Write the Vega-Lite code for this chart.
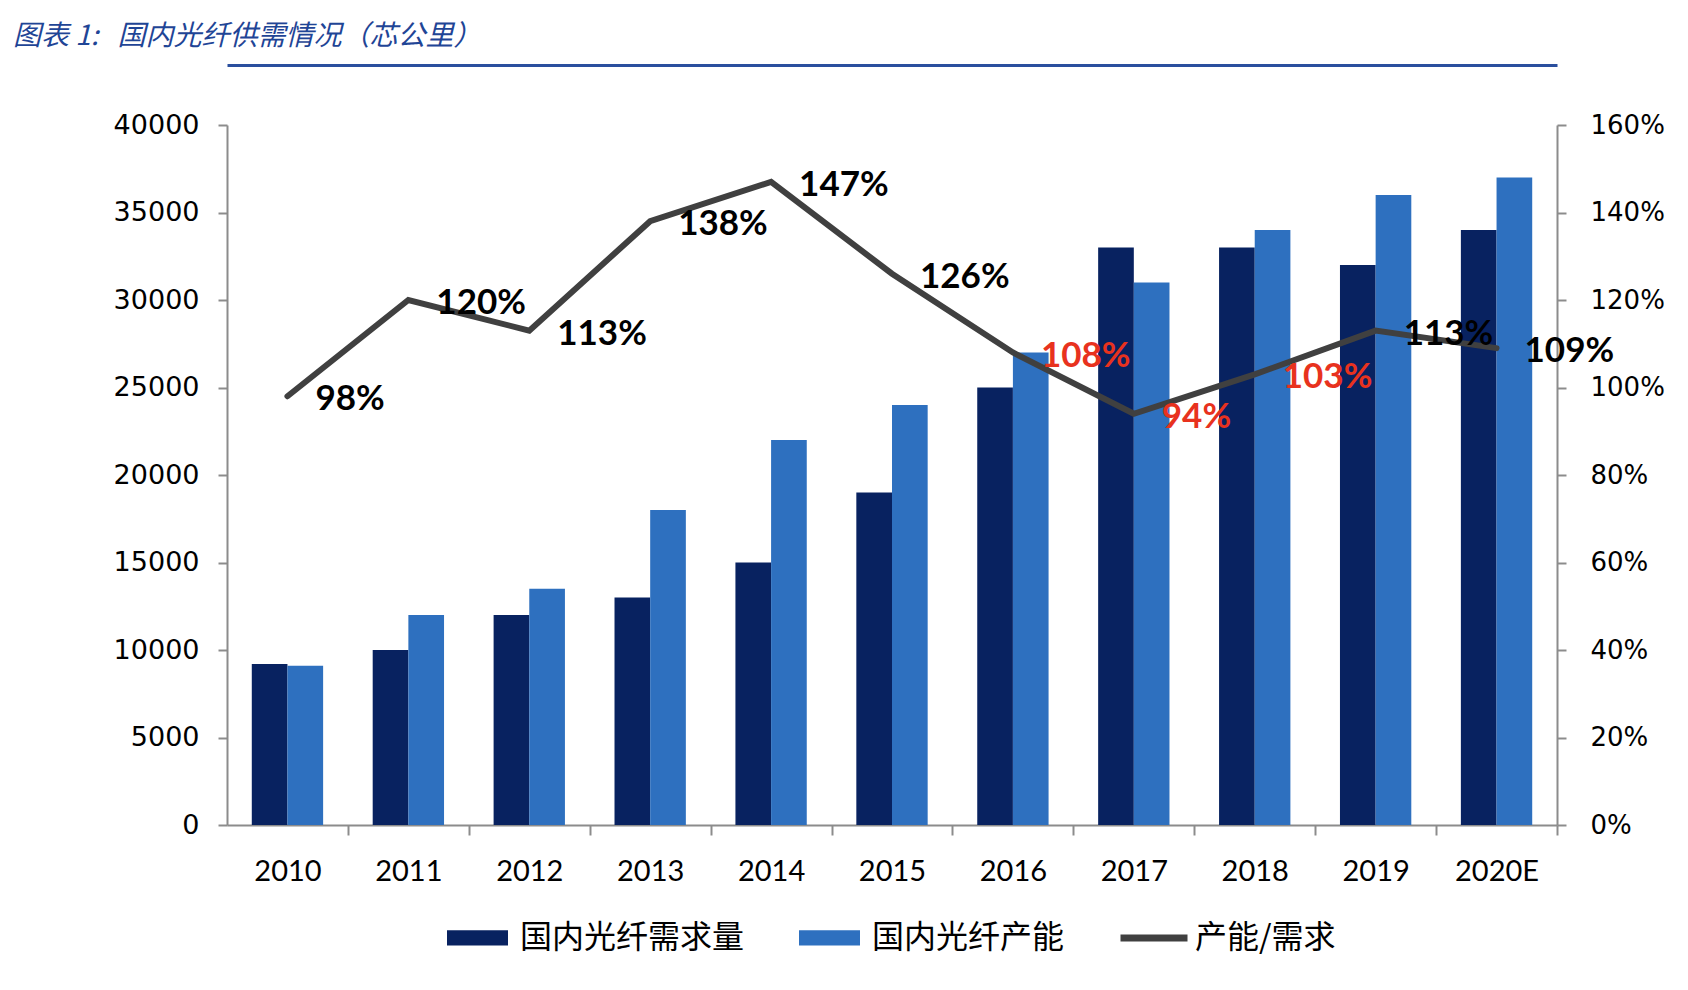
{
  "$schema": "https://vega.github.io/schema/vega-lite/v6.json",
  "width": 1330,
  "height": 700,
  "autosize": {"type": "none"},
  "padding": {"left": 227, "top": 125, "right": 131, "bottom": 165},
  "background": "white",
  "title": {
    "text": "图表 1:\u00a0\u00a0 国内光纤供需情况（芯公里）",
    "anchor": "start",
    "frame": "group",
    "dx": -214,
    "offset": 14,
    "font": "Noto Sans CJK SC",
    "fontSize": 28,
    "fontStyle": "italic",
    "fontWeight": "normal",
    "color": "#1F4596"
  },
  "datasets": {
    "bars": [
      {"year": "2010", "series": "国内光纤需求量", "value": 9200},
      {"year": "2010", "series": "国内光纤产能", "value": 9100},
      {"year": "2011", "series": "国内光纤需求量", "value": 10000},
      {"year": "2011", "series": "国内光纤产能", "value": 12000},
      {"year": "2012", "series": "国内光纤需求量", "value": 12000},
      {"year": "2012", "series": "国内光纤产能", "value": 13500},
      {"year": "2013", "series": "国内光纤需求量", "value": 13000},
      {"year": "2013", "series": "国内光纤产能", "value": 18000},
      {"year": "2014", "series": "国内光纤需求量", "value": 15000},
      {"year": "2014", "series": "国内光纤产能", "value": 22000},
      {"year": "2015", "series": "国内光纤需求量", "value": 19000},
      {"year": "2015", "series": "国内光纤产能", "value": 24000},
      {"year": "2016", "series": "国内光纤需求量", "value": 25000},
      {"year": "2016", "series": "国内光纤产能", "value": 27000},
      {"year": "2017", "series": "国内光纤需求量", "value": 33000},
      {"year": "2017", "series": "国内光纤产能", "value": 31000},
      {"year": "2018", "series": "国内光纤需求量", "value": 33000},
      {"year": "2018", "series": "国内光纤产能", "value": 34000},
      {"year": "2019", "series": "国内光纤需求量", "value": 32000},
      {"year": "2019", "series": "国内光纤产能", "value": 36000},
      {"year": "2020E", "series": "国内光纤需求量", "value": 34000},
      {"year": "2020E", "series": "国内光纤产能", "value": 37000}
    ],
    "ratio": [
      {"year": "2010", "ratio": 0.98},
      {"year": "2011", "ratio": 1.20},
      {"year": "2012", "ratio": 1.13},
      {"year": "2013", "ratio": 1.38},
      {"year": "2014", "ratio": 1.47},
      {"year": "2015", "ratio": 1.26},
      {"year": "2016", "ratio": 1.08},
      {"year": "2017", "ratio": 0.94},
      {"year": "2018", "ratio": 1.03},
      {"year": "2019", "ratio": 1.13},
      {"year": "2020E", "ratio": 1.09}
    ]
  },
  "config": {
    "view": {"stroke": null},
    "axis": {
      "grid": false,
      "domainColor": "#8c8c8c",
      "domainWidth": 2,
      "tickColor": "#8c8c8c",
      "tickWidth": 2,
      "labelColor": "#000000",
      "title": null
    }
  },
  "resolve": {"scale": {"y": "independent"}, "axis": {"x": "independent"}},
  "layer": [
    {
      "data": {"name": "bars"},
      "mark": {"type": "bar"},
      "encoding": {
        "x": {
          "field": "year",
          "type": "nominal",
          "scale": {"paddingInner": 0.41, "paddingOuter": 0.205},
          "axis": {
            "orient": "bottom",
            "labelAngle": 0,
            "tickSize": 10,
            "tickOffset": 60.45,
            "labelOffset": -60.45,
            "labelFont": "Lato",
            "labelFontSize": 29,
            "labelPadding": 22
          }
        },
        "xOffset": {"field": "series", "type": "nominal", "sort": ["国内光纤需求量", "国内光纤产能"]},
        "y": {
          "field": "value",
          "type": "quantitative",
          "scale": {"domain": [0, 40000]},
          "axis": {
            "values": [0, 5000, 10000, 15000, 20000, 25000, 30000, 35000, 40000],
            "format": "d",
            "labelFont": "DejaVu Sans",
            "labelFontSize": 27,
            "tickSize": 9,
            "labelPadding": 19
          }
        },
        "color": {
          "field": "series",
          "type": "nominal",
          "scale": {"domain": ["国内光纤需求量", "国内光纤产能"], "range": ["#082260", "#2E70BF"]},
          "legend": {
            "orient": "none",
            "legendX": 220,
            "legendY": 782,
            "direction": "horizontal",
            "title": null,
            "symbolType": "M-1,-0.25L1,-0.25L1,0.25L-1,0.25Z",
            "symbolSize": 3721,
            "symbolStrokeWidth": 0,
            "labelFont": "Noto Sans CJK SC",
            "labelFontSize": 32,
            "labelColor": "#000000",
            "labelOffset": 12,
            "labelLimit": 0,
            "columnPadding": 54
          }
        }
      }
    },
    {
      "data": {"name": "ratio"},
      "encoding": {
        "x": {
          "field": "year",
          "type": "nominal",
          "axis": {
            "orient": "top",
            "offset": 60,
            "labels": false,
            "ticks": false,
            "domainColor": "#2A4F9E",
            "domainWidth": 3
          }
        },
        "y": {
          "field": "ratio",
          "type": "quantitative",
          "scale": {"domain": [0, 1.6]},
          "axis": {
            "orient": "right",
            "values": [0, 0.2, 0.4, 0.6, 0.8, 1.0, 1.2, 1.4, 1.6],
            "format": ".0%",
            "labelFont": "DejaVu Sans",
            "labelFontSize": 26,
            "tickSize": 9,
            "labelPadding": 24
          }
        }
      },
      "layer": [
        {
          "mark": {"type": "line", "strokeWidth": 6, "strokeCap": "round"},
          "encoding": {
            "stroke": {
              "datum": "产能/需求",
              "scale": {"range": ["#404040"]},
              "legend": {
                "orient": "none",
                "legendX": 890,
                "legendY": 776,
                "title": null,
                "symbolType": "stroke",
                "symbolSize": 4489,
                "symbolStrokeWidth": 7,
                "labelFont": "Noto Sans CJK SC",
                "labelFontSize": 32,
                "labelColor": "#000000",
                "labelOffset": 4,
                "labelLimit": 0
              }
            }
          }
        },
        {
          "mark": {
            "type": "text",
            "align": "left",
            "baseline": "middle",
            "dx": 28,
            "dy": 3,
            "font": "Lato",
            "fontSize": 35,
            "fontWeight": "bold"
          },
          "encoding": {
            "text": {"field": "ratio", "type": "quantitative", "format": ".0%"},
            "color": {
              "condition": {"test": "datum.year == '2016' || datum.year == '2017' || datum.year == '2018'", "value": "#E8321E"},
              "value": "#000000"
            }
          }
        }
      ]
    }
  ]
}
